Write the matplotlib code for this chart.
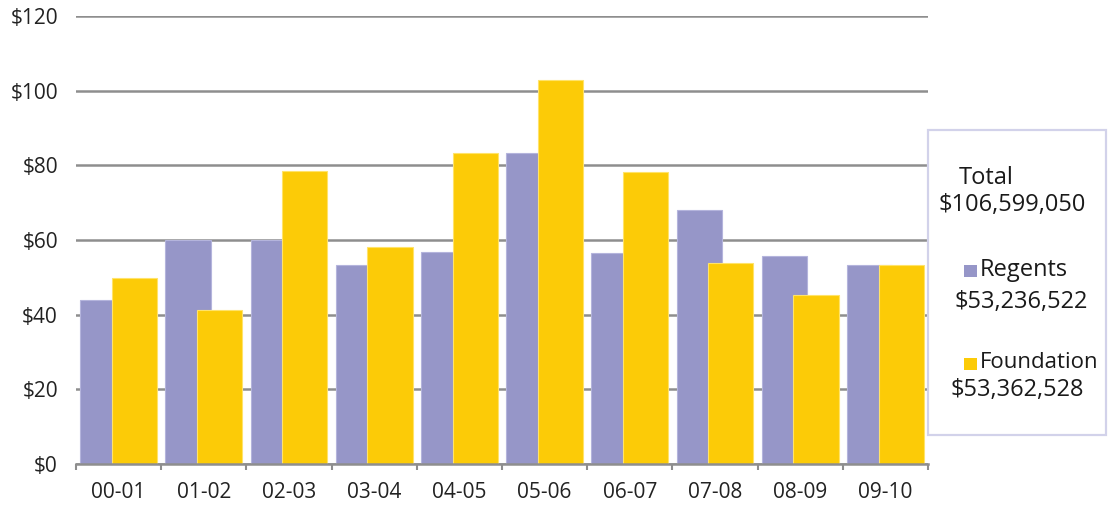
import matplotlib.pyplot as plt
import numpy as np

plt.rcParams['font.family'] = ['Open Sans', 'DejaVu Sans']

# fiscal years and amounts (millions of dollars)
years = ['00-01', '01-02', '02-03', '03-04', '04-05', '05-06', '06-07', '07-08', '08-09', '09-10']
regents = [44.0, 60.1, 60.1, 53.4, 56.9, 83.4, 56.4, 68.0, 55.6, 53.3]
foundation = [49.7, 41.3, 78.6, 58.2, 83.4, 102.9, 78.3, 53.9, 45.3, 53.2]

total_text = '$106,599,050'
regents_text = '$53,236,522'
foundation_text = '$53,362,528'

purple = '#9696c8'
yellow = '#fccb07'
grid_grey = '#8e8e8e'

fig = plt.figure(figsize=(11.1, 5.14), dpi=100)
ax = fig.add_axes([0.0685, 0.0973, 0.7675, 0.8716])

x = np.arange(len(years))
w = 0.53
ax.bar(x - 0.185, regents, w, color=purple, edgecolor='#b4b4dc', linewidth=0.8, zorder=2)
ax.bar(x + 0.185, foundation, w, color=yellow, edgecolor='#ffe36a', linewidth=0.8, zorder=3)

ax.set_xlim(-0.5, len(years) - 0.5)
ax.set_ylim(0, 120)
ax.set_yticks(range(0, 121, 20))
ax.set_yticklabels(['$%d' % v for v in range(0, 121, 20)])
ax.set_xticks(x)
ax.set_xticklabels(years)
ax.set_xticks(np.arange(-0.5, len(years)), minor=True)

ax.yaxis.grid(True, color=grid_grey, linewidth=1.8, zorder=0)
ax.set_axisbelow(True)
for s in ['top', 'right', 'left']:
    ax.spines[s].set_visible(False)
ax.spines['bottom'].set_color(grid_grey)
ax.spines['bottom'].set_linewidth(1.8)
ax.spines['bottom'].set_zorder(4)

ax.tick_params(axis='y', length=0, pad=13, labelsize=15, labelcolor='#222222')
ax.tick_params(axis='x', which='major', length=0, pad=13, labelsize=15, labelcolor='#222222')
ax.tick_params(axis='x', which='minor', length=4, width=1.5, color=grid_grey, direction='out')

# side box with totals
box = plt.Rectangle((928 / 1110, 1 - 435 / 514), (1106 - 928) / 1110, (435 - 130) / 514,
                    transform=fig.transFigure, facecolor='white', edgecolor='#d2d2ea',
                    linewidth=1.6)
fig.patches.append(box)

def ftxt(px, py, s, size=17):
    fig.text(px / 1110, 1 - py / 514, s, fontsize=size, color='#1a1a1a', va='center', ha='left')

ftxt(959, 178, 'Total')
ftxt(939, 205, total_text)
fig.patches.append(plt.Rectangle((964 / 1110, 1 - 277 / 514), 12.5 / 1110, 12.5 / 514,
                                 transform=fig.transFigure, facecolor=purple, edgecolor='none'))
ftxt(980, 270, 'Regents')
ftxt(955, 302, regents_text)
fig.patches.append(plt.Rectangle((964 / 1110, 1 - 370 / 514), 12.5 / 1110, 12.5 / 514,
                                 transform=fig.transFigure, facecolor=yellow, edgecolor='none'))
ftxt(980, 363, 'Foundation', size=16)
ftxt(951, 390, foundation_text)

fig.savefig('out.png', dpi=100)
